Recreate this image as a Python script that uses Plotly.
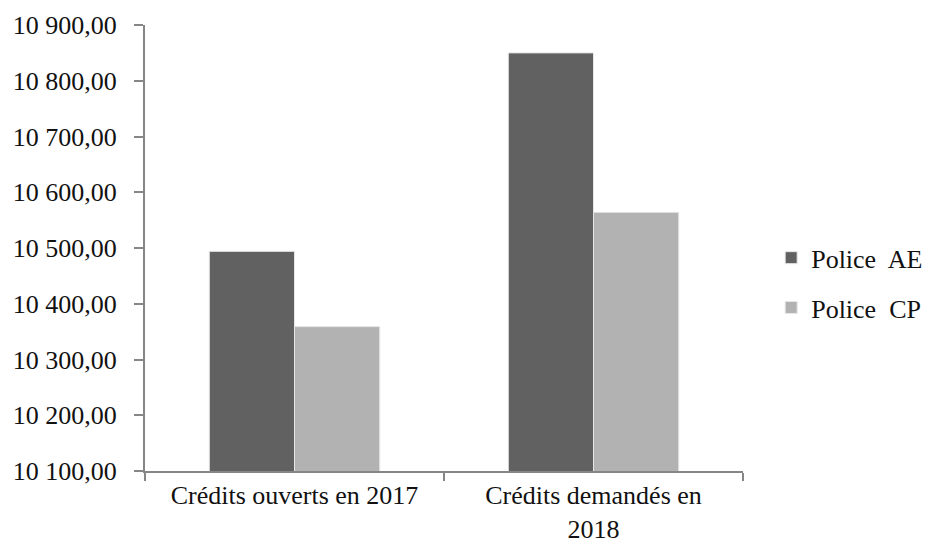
import plotly.graph_objects as go

categories = ["Crédits ouverts en 2017", "Crédits demandés en<br>2018"]
police_ae = [10494, 10850]
police_cp = [10359, 10564]
y_ticks = [10100, 10200, 10300, 10400, 10500, 10600, 10700, 10800, 10900]

FONT = "Liberation Serif"
FONT_SIZE = 26
TEXT_COLOR = "#111111"
AXIS_GRAY = "#868686"

fig = go.Figure()
fig.add_trace(go.Bar(
    x=categories, y=police_ae, name="Police  AE",
    marker=dict(color="#616161", line=dict(color="#e6e6e6", width=1)),
    legendgroup="ae",
))
fig.add_trace(go.Bar(
    x=categories, y=police_cp, name="Police  CP",
    marker=dict(color="#b2b2b2", line=dict(color="#e6e6e6", width=1)),
    legendgroup="cp",
))

fig.update_layout(
    width=928, height=548,
    margin=dict(l=145, r=185, t=25, b=77),
    paper_bgcolor="white", plot_bgcolor="white",
    barmode="group", bargap=0.43, bargroupgap=0,
    separators=", ",
    font=dict(family=FONT, size=FONT_SIZE, color=TEXT_COLOR),
    legend=dict(
        xref="container", yref="container",
        x=0.831, y=0.484, xanchor="left", yanchor="middle",
        font=dict(family=FONT, size=FONT_SIZE, color=TEXT_COLOR),
        tracegroupgap=13, itemwidth=30,
        bgcolor="rgba(0,0,0,0)", borderwidth=0,
    ),
    showlegend=True,
)

fig.update_xaxes(
    automargin=False,
    showline=True, linecolor=AXIS_GRAY, linewidth=2,
    ticks="outside", tickson="boundaries", ticklen=8, tickcolor=AXIS_GRAY, tickwidth=2,
    showgrid=False, zeroline=False,
    tickfont=dict(family=FONT, size=FONT_SIZE, color=TEXT_COLOR),
)
fig.update_yaxes(
    automargin=False,
    range=[10100, 10900],
    tickvals=y_ticks, tickformat=",.2f",
    showline=True, linecolor=AXIS_GRAY, linewidth=2,
    ticks="outside", ticklen=9, tickcolor=AXIS_GRAY, tickwidth=2,
    ticklabelstandoff=12,
    showgrid=False, zeroline=False,
    tickfont=dict(family=FONT, size=FONT_SIZE, color=TEXT_COLOR),
)

fig.write_html("out.html")
